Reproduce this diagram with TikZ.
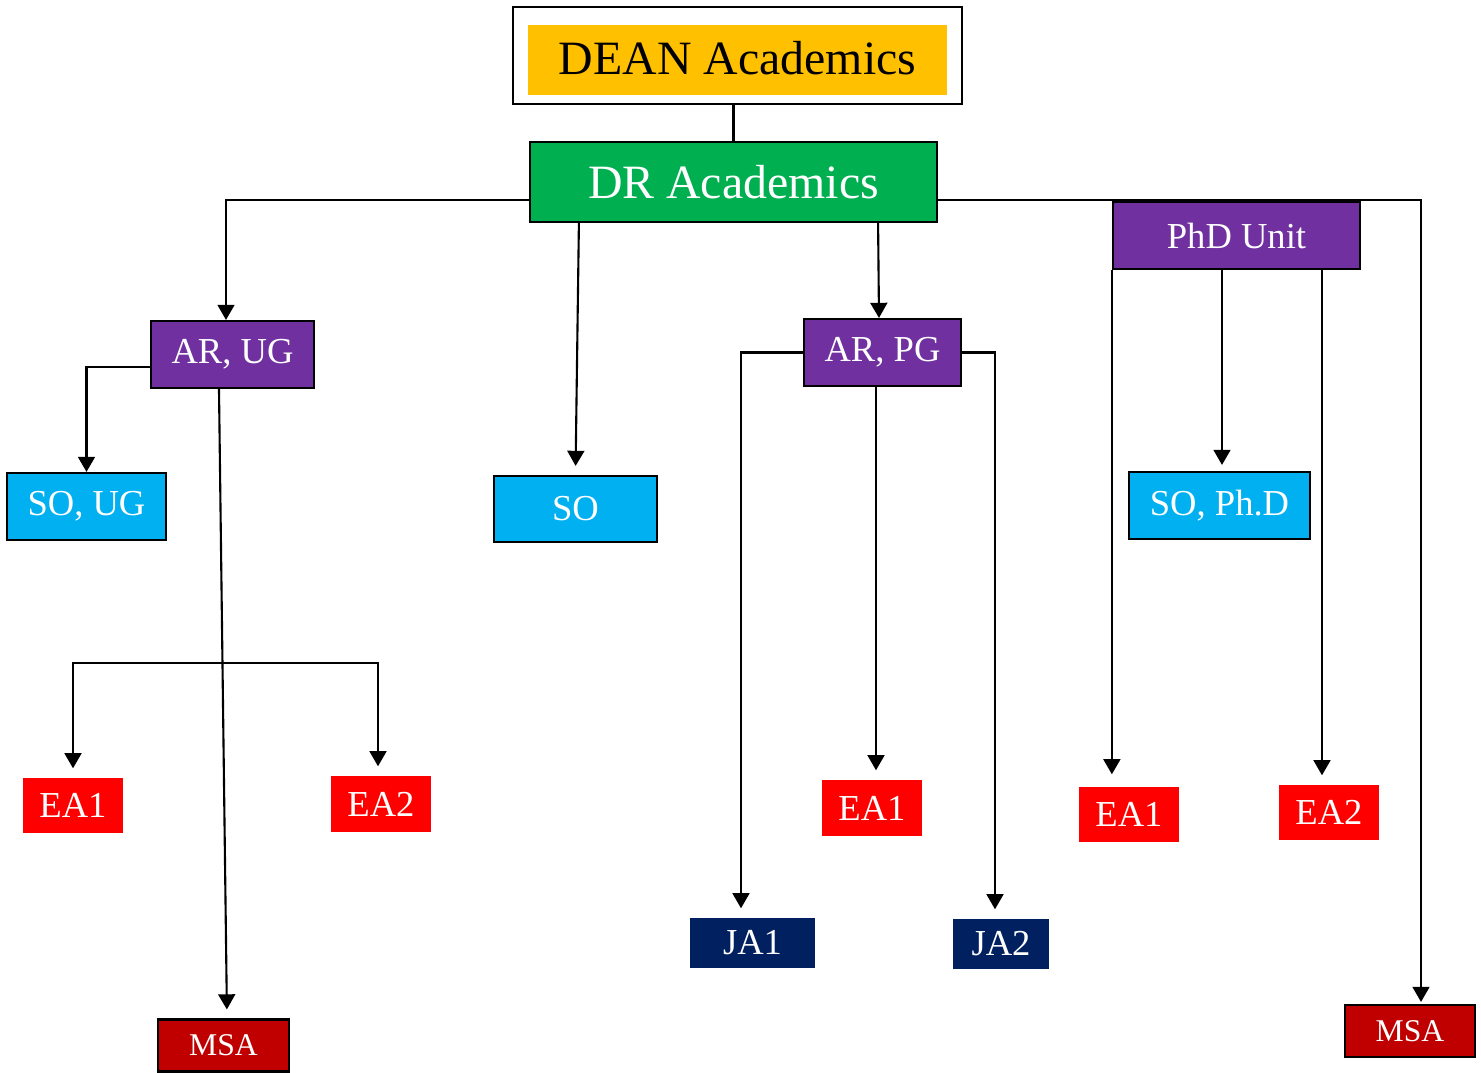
\documentclass[tikz,border=0pt]{standalone}
\usepackage{fontspec}
\setmainfont{Liberation Serif}
\usetikzlibrary{arrows.meta}

\definecolor{deanyellow}{HTML}{FFC000}
\definecolor{drgreen}{HTML}{00B050}
\definecolor{arpurple}{HTML}{7030A0}
\definecolor{socyan}{HTML}{00B0F0}
\definecolor{eared}{HTML}{FF0000}
\definecolor{msared}{HTML}{C00000}
\definecolor{janavy}{HTML}{002060}

\tikzset{
  unit/.style={inner sep=0pt, text=white, font=\fontsize{10.4}{12}\selectfont},
  framed/.style={unit, draw=black, line width=0.6pt},
  arr/.style={line width=0.6pt, -{Triangle[width=4.8pt,length=4.3pt]}},
  tipgap/.style={shorten >=0.09cm}
}

\begin{document}
\begin{tikzpicture}[x=0.01cm,y=-0.01cm]
    \useasboundingbox (0,0) rectangle (1481,1072);
    % top of the tree
    \node[draw=black, line width=0.6pt, fill=white, minimum width=4.49cm, minimum height=0.97cm] (deanframe) at (737.5,55.5) {};
    \node[fill=deanyellow, inner sep=0pt, minimum width=4.19cm, minimum height=0.70cm, font=\fontsize{13.6}{16}\selectfont] (dean) at (737.5,60) {\raisebox{1.2pt}{DEAN Academics}};
    \node[framed, fill=drgreen, minimum width=4.07cm, minimum height=0.80cm, font=\fontsize{13.6}{16}\selectfont] (dr) at (733.5,182) {DR Academics};
    % second row
    \node[framed, fill=arpurple, minimum width=1.63cm, minimum height=0.67cm] (arug) at (232.5,354.5) {AR, UG};
    \node[framed, fill=arpurple, minimum width=1.57cm, minimum height=0.67cm] (arpg) at (882.5,352.5) {AR, PG};
    % third row
    \node[framed, fill=socyan, minimum width=1.59cm, minimum height=0.67cm] (soug) at (86.5,506.5) {SO, UG};
    \node[framed, fill=socyan, minimum width=1.63cm, minimum height=0.66cm] (so) at (575.5,509) {\raisebox{-1pt}{SO}};
    \node[framed, fill=socyan, minimum width=1.81cm, minimum height=0.67cm] (sophd) at (1219.5,505.5) {SO, Ph.D};
    % assistants
    \node[unit, fill=eared, minimum width=1.00cm, minimum height=0.55cm] (eaoneug) at (73,805.5) {EA1};
    \node[unit, fill=eared, minimum width=1.00cm, minimum height=0.56cm] (eatwoug) at (381,804) {EA2};
    \node[unit, fill=eared, minimum width=1.00cm, minimum height=0.56cm] (eaonepg) at (872,808) {EA1};
    \node[unit, fill=eared, minimum width=1.00cm, minimum height=0.55cm] (eaonephd) at (1129,814.5) {EA1};
    \node[unit, fill=eared, minimum width=1.00cm, minimum height=0.55cm] (eatwophd) at (1329,812.5) {EA2};
    \node[unit, fill=janavy, minimum width=1.25cm, minimum height=0.50cm] (jaone) at (752.5,943) {JA1};
    \node[unit, fill=janavy, minimum width=0.96cm, minimum height=0.50cm] (jatwo) at (1001,944) {JA2};
    \node[framed, fill=msared, minimum width=1.31cm, minimum height=0.52cm, font=\fontsize{9}{11}\selectfont] (msaug) at (223.5,1045.5) {\raisebox{-2.5pt}{MSA}};
    \node[framed, fill=msared, minimum width=1.30cm, minimum height=0.52cm, font=\fontsize{9}{11}\selectfont] (msaphd) at (1410,1031) {\raisebox{-1pt}{MSA}};

    % connectors
    \draw[line width=0.6pt] (deanframe.south -| dr.north) -- (dr.north);
    \draw[arr] ([yshift=-0.18cm]dr.west) -| ([xshift=-0.065cm]arug.north);
    \draw[arr, tipgap] ([xshift=-1.545cm]dr.south) -- (so.north);
    \draw[arr] ([xshift=1.445cm]dr.south) -- ([xshift=-0.035cm]arpg.north);
    \draw[arr, shorten >=0.02cm] ([yshift=-0.18cm]dr.east) -| ([xshift=0.11cm]msaphd.north);

    \draw[arr] ([yshift=-0.125cm]arug.west) -| (soug.north);
    \draw[arr, tipgap] ([xshift=-0.135cm]arug.south) -- ([xshift=0.035cm]msaug.north);
    \coordinate (eafork) at (221,663);
    \draw[arr, tipgap] (eafork) -| (eaoneug.north);
    \draw[arr, tipgap] (eafork) -| ([xshift=-0.03cm]eatwoug.north);

    \draw[arr, tipgap] (arpg.west) -| ([xshift=-0.115cm]jaone.north);
    \draw[arr, tipgap] (arpg.east) -| ([xshift=-0.06cm]jatwo.north);
    \draw[arr, tipgap] ([xshift=0.04cm]eaonepg.north |- arpg.south) -- ([xshift=0.04cm]eaonepg.north);

    % PhD unit sits on the line from DR
    \node[framed, fill=arpurple, minimum width=2.47cm, minimum height=0.67cm] (phd) at (1236.5,235.5) {PhD Unit};
    \draw[arr, shorten >=0.12cm] (phd.south west) -- (phd.south west |- eaonephd.north);
    \draw[arr, shorten >=0.06cm] ([xshift=0.025cm]sophd.north |- phd.south) -- ([xshift=0.025cm]sophd.north);
    \draw[arr, tipgap] ([xshift=-0.07cm]eatwophd.north |- phd.south) -- ([xshift=-0.07cm]eatwophd.north);
\end{tikzpicture}
\end{document}
